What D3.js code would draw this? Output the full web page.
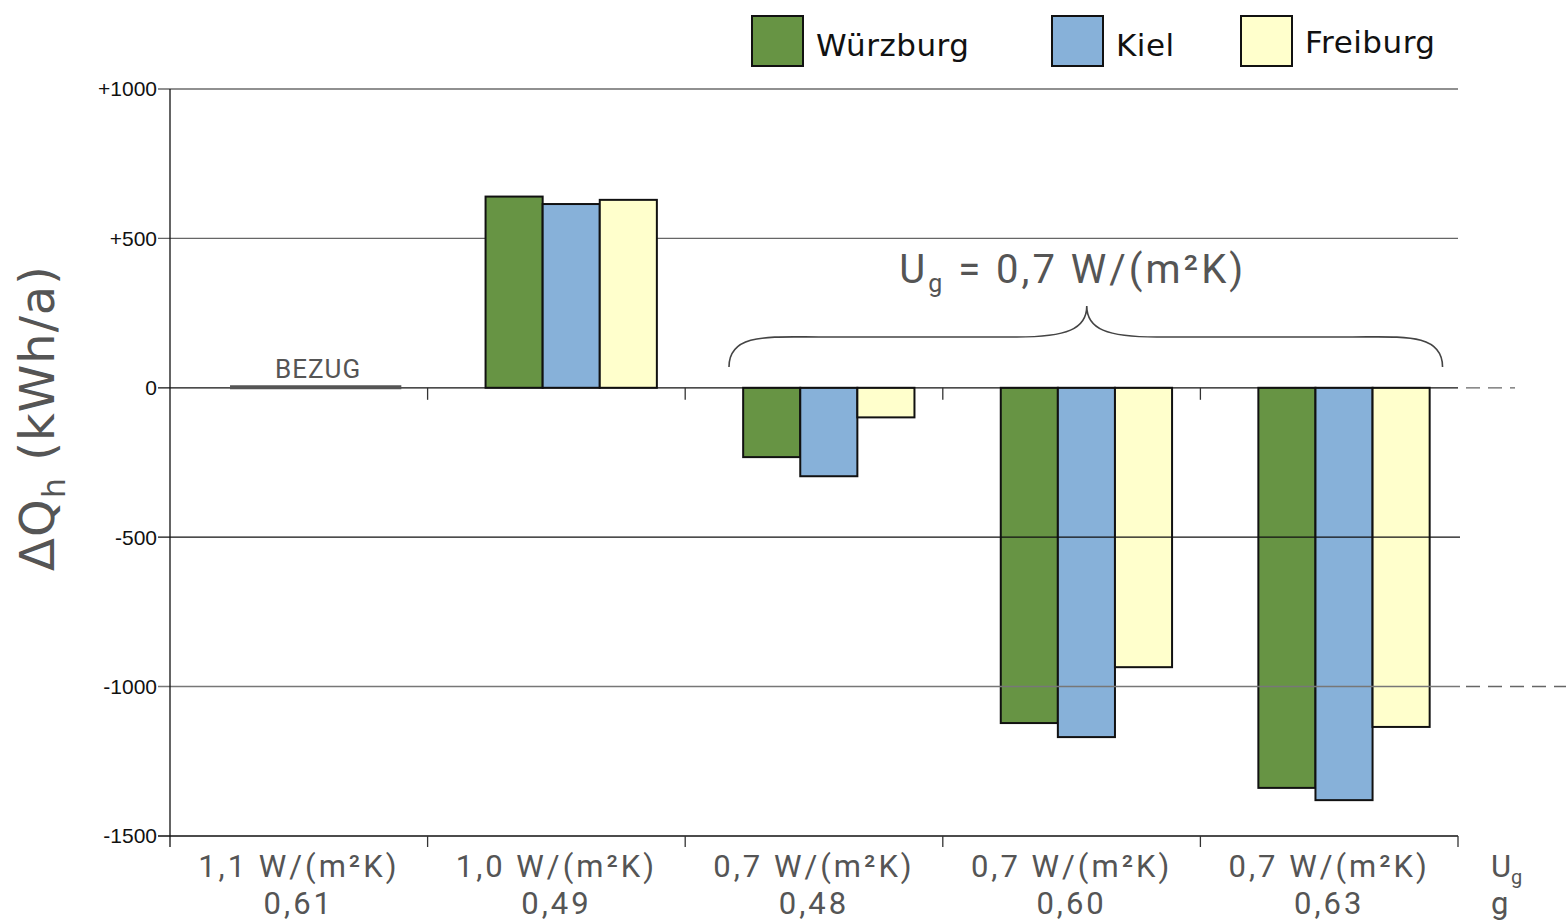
<!DOCTYPE html>
<html>
<head>
<meta charset="utf-8">
<script src="https://cdn.jsdelivr.net/npm/d3@7"></script>
<style>
  html, body { margin: 0; padding: 0; background: #fff; }
  svg { display: block; }
</style>
</head>
<body>
<svg id="chart" width="1566" height="923"></svg>
<script>
// ---- data ----
const categories = ["c1", "c2", "c3", "c4", "c5"];
const ugLabels = ["1,1 W/(m²K)", "1,0 W/(m²K)", "0,7 W/(m²K)", "0,7 W/(m²K)", "0,7 W/(m²K)"];
const gLabels = ["0,61", "0,49", "0,48", "0,60", "0,63"];
const seriesNames = ["Würzburg", "Kiel", "Freiburg"];
const wuerzburg = [null, 640, -232, -1122, -1339];
const kiel = [null, 615, -296, -1169, -1380];
const freiburg = [null, 629, -99, -935, -1135];
const yTicks = [1000, 500, 0, -500, -1000, -1500];
const yTickLabels = ["+1000", "+500", "0", "-500", "-1000", "-1500"];
const colors = ["#679444", "#87b1d9", "#ffffcc"];

const seriesValues = [wuerzburg, kiel, freiburg];

const svg = d3.select("#chart");
const pLeft = 170, pRight = 1458, pTop = 89, pBottom = 836;

const y = d3.scaleLinear().domain([-1500, 1000]).range([pBottom, pTop]);
const x = d3.scaleBand().domain(categories).range([pLeft, pRight]).padding(0);
const bw = x.bandwidth();
const x1 = d3.scaleBand().domain(seriesNames).range([bw * 0.225, bw * 0.89]).padding(0);

const fontLabel = "Roboto, 'Open Sans', sans-serif";

// ---- gridlines behind bars ----
const behind = svg.append("g");
[[1000, "#222"], [500, "#666"]].forEach(([v, c]) => {
  behind.append("line").attr("x1", pLeft - 12).attr("x2", pRight)
    .attr("y1", y(v)).attr("y2", y(v)).attr("stroke", c).attr("stroke-width", 1.2);
});

// ---- bars ----
const barData = [];
seriesValues.forEach((vals, si) => {
  vals.forEach((v, ci) => {
    if (v !== null) barData.push({ cat: categories[ci], s: seriesNames[si], v, si });
  });
});
svg.append("g").selectAll("rect").data(barData).join("rect")
  .attr("x", d => x(d.cat) + x1(d.s))
  .attr("width", x1.bandwidth())
  .attr("y", d => Math.min(y(0), y(d.v)))
  .attr("height", d => Math.abs(y(d.v) - y(0)))
  .attr("fill", d => colors[d.si])
  .attr("stroke", "#111").attr("stroke-width", 2);

// ---- gridlines on top ----
const front = svg.append("g");
front.append("line").attr("x1", pLeft - 12).attr("x2", pRight)
  .attr("y1", y(0)).attr("y2", y(0)).attr("stroke", "#111").attr("stroke-width", 1.3);
front.append("line").attr("x1", pRight + 8).attr("x2", 1515)
  .attr("y1", y(0)).attr("y2", y(0)).attr("stroke", "#666").attr("stroke-width", 1.3)
  .attr("stroke-dasharray", "14,8");
front.append("line").attr("x1", pLeft - 12).attr("x2", pRight + 2)
  .attr("y1", y(-500)).attr("y2", y(-500)).attr("stroke", "#111").attr("stroke-width", 1.3);
front.append("line").attr("x1", pLeft - 12).attr("x2", pRight + 2)
  .attr("y1", y(-1000)).attr("y2", y(-1000)).attr("stroke", "#777").attr("stroke-width", 1.5);
front.append("line").attr("x1", pRight + 8).attr("x2", 1566)
  .attr("y1", y(-1000)).attr("y2", y(-1000)).attr("stroke", "#666").attr("stroke-width", 1.5)
  .attr("stroke-dasharray", "14,8");
front.append("line").attr("x1", pLeft - 12).attr("x2", pRight)
  .attr("y1", y(-1500)).attr("y2", y(-1500)).attr("stroke", "#111").attr("stroke-width", 1.3);

// y axis line
front.append("line").attr("x1", pLeft).attr("x2", pLeft)
  .attr("y1", pTop).attr("y2", pBottom + 11).attr("stroke", "#111").attr("stroke-width", 1.3);

// category ticks on zero line and bottom
categories.slice(1).forEach(c => {
  front.append("line").attr("x1", x(c)).attr("x2", x(c))
    .attr("y1", y(0)).attr("y2", y(0) + 12).attr("stroke", "#333").attr("stroke-width", 1.3);
});
categories.forEach(c => {
  const xe = x(c) + bw;
  front.append("line").attr("x1", xe).attr("x2", xe)
    .attr("y1", pBottom).attr("y2", pBottom + 11).attr("stroke", "#333").attr("stroke-width", 1.3);
});

// ---- y tick labels ----
svg.append("g").selectAll("text").data(yTicks).join("text")
  .attr("x", pLeft - 13).attr("y", d => y(d)).attr("dy", "0.35em")
  .attr("text-anchor", "end")
  .attr("font-family", "'Liberation Sans', Arial, sans-serif")
  .attr("font-size", 21).attr("fill", "#111")
  .text((d, i) => yTickLabels[i]);

// ---- y axis title ----
const yt = svg.append("text")
  .attr("transform", `translate(54, 418) rotate(-90)`)
  .attr("text-anchor", "middle")
  .attr("font-family", "'DejaVu Sans', Verdana, sans-serif")
  .attr("font-size", 48).attr("fill", "#555").attr("letter-spacing", "1px");
yt.append("tspan").text("ΔQ");
yt.append("tspan").attr("font-size", 32).attr("dy", 11).text("h");
yt.append("tspan").attr("dy", -11).text("\u00a0(kWh/a)");

// ---- x labels ----
const xl = svg.append("g").attr("font-family", fontLabel).attr("fill", "#555")
  .attr("font-size", 31).attr("letter-spacing", "3px").attr("text-anchor", "middle");
categories.forEach((c, i) => {
  const cx = x(c) + bw / 2;
  xl.append("text").attr("x", cx).attr("y", 877).text(ugLabels[i]);
  xl.append("text").attr("x", cx).attr("y", 914).text(gLabels[i]);
});
// axis name on right
const un = svg.append("text").attr("x", 1491).attr("y", 877)
  .attr("font-family", fontLabel).attr("fill", "#555").attr("font-size", 31);
un.append("tspan").text("U");
un.append("tspan").attr("font-size", 20).attr("dy", 7).text("g");
svg.append("text").attr("x", 1491).attr("y", 914)
  .attr("font-family", fontLabel).attr("fill", "#555").attr("font-size", 31).text("g");

// ---- BEZUG ----
const c0 = x(categories[0]);
svg.append("line").attr("x1", c0 + bw * 0.233).attr("x2", c0 + bw * 0.898)
  .attr("y1", y(0) - 0.5).attr("y2", y(0) - 0.5).attr("stroke", "#555").attr("stroke-width", 4);
svg.append("text").attr("x", c0 + bw * 0.575).attr("y", y(0) - 10)
  .attr("text-anchor", "middle").attr("font-family", fontLabel)
  .attr("font-size", 26).attr("letter-spacing", "1px").attr("fill", "#555").text("BEZUG");

// ---- brace over U_g = 0.7 group ----
const bx0 = x(categories[2]) + bw * 0.17, bx1 = x(categories[4]) + bw * 0.94;
const bm = (bx0 + bx1) / 2 + 1;
const yEnd = 367, yMid = 337, yTip = 306;
const bracePath = `M${bx0},${yEnd} C${bx0},${yMid - 4} ${bx0 + 40},${yMid} ${bx0 + 90},${yMid}
  L${bm - 70},${yMid} C${bm - 20},${yMid} ${bm},${yMid - 8} ${bm},${yTip}
  C${bm},${yMid - 8} ${bm + 20},${yMid} ${bm + 70},${yMid}
  L${bx1 - 90},${yMid} C${bx1 - 40},${yMid} ${bx1},${yMid - 4} ${bx1},${yEnd}`;
svg.append("path").attr("d", bracePath).attr("fill", "none")
  .attr("stroke", "#444").attr("stroke-width", 1.6);
const bl = svg.append("text").attr("x", bm - 14).attr("y", 283).attr("text-anchor", "middle")
  .attr("font-family", fontLabel).attr("fill", "#555").attr("font-size", 40)
  .attr("letter-spacing", "3px");
bl.append("tspan").text("U");
bl.append("tspan").attr("font-size", 25).attr("dy", 9).text("g");
bl.append("tspan").attr("dy", -9).text(" = 0,7 W/(m²K)");

// ---- legend ----
const legendX = [752, 1052, 1241];
const lg = svg.append("g");
seriesNames.forEach((s, i) => {
  lg.append("rect").attr("x", legendX[i]).attr("y", 16).attr("width", 51).attr("height", 50)
    .attr("fill", colors[i]).attr("stroke", "#111").attr("stroke-width", 2);
  lg.append("text").attr("x", legendX[i] + 64).attr("y", i === 2 ? 53 : 56)
    .attr("font-family", "'DejaVu Sans', Verdana, sans-serif")
    .attr("font-size", 31).attr("letter-spacing", "0.5px").attr("fill", "#111").text(s);
});
</script>
</body>
</html>
